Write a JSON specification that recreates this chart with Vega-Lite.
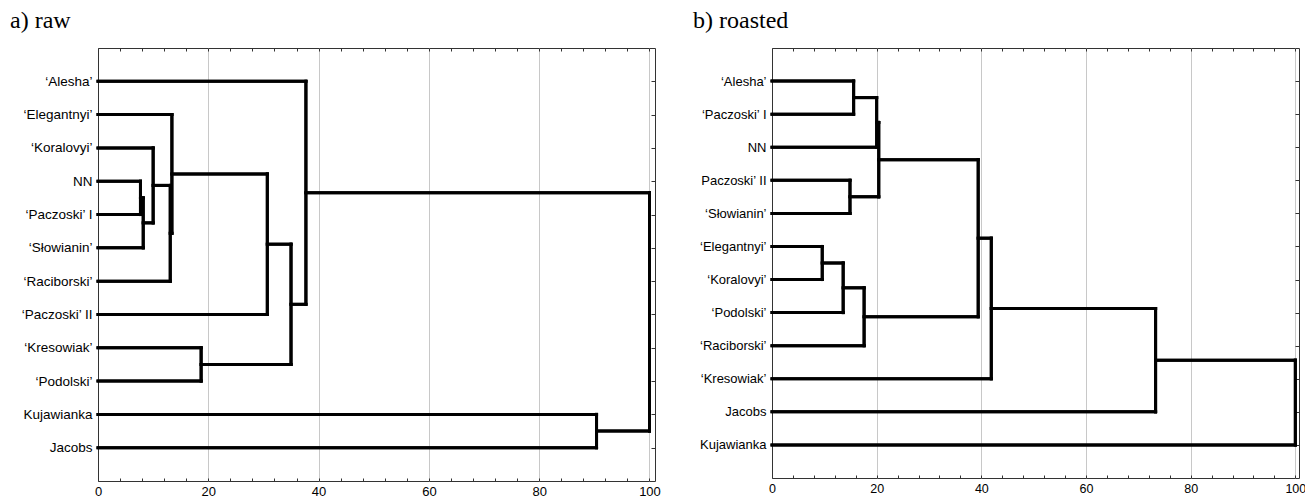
{
  "$schema": "https://vega.github.io/schema/vega-lite/v6.json",
  "padding": {"left": 9, "top": 8, "right": 0, "bottom": 0},
  "background": "white",
  "config": {
    "view": {"stroke": "#333", "strokeWidth": 1},
    "concat": {"spacing": 31}
  },
  "datasets": {
    "raw": [
      {"x1": 0, "x2": 7.7, "y1": 4, "y2": 4},
      {"x1": 0, "x2": 7.7, "y1": 5, "y2": 5},
      {"x1": 7.7, "x2": 7.7, "y1": 4, "y2": 5},
      {"x1": 7.7, "x2": 8.2, "y1": 4.5, "y2": 4.5},
      {"x1": 0, "x2": 8.2, "y1": 6, "y2": 6},
      {"x1": 8.2, "x2": 8.2, "y1": 4.5, "y2": 6},
      {"x1": 0, "x2": 10.0, "y1": 3, "y2": 3},
      {"x1": 8.2, "x2": 10.0, "y1": 5.25, "y2": 5.25},
      {"x1": 10.0, "x2": 10.0, "y1": 3, "y2": 5.25},
      {"x1": 10.0, "x2": 13.1, "y1": 4.125, "y2": 4.125},
      {"x1": 0, "x2": 13.1, "y1": 7, "y2": 7},
      {"x1": 13.1, "x2": 13.1, "y1": 4.125, "y2": 7},
      {"x1": 0, "x2": 13.4, "y1": 2, "y2": 2},
      {"x1": 13.1, "x2": 13.4, "y1": 5.5625, "y2": 5.5625},
      {"x1": 13.4, "x2": 13.4, "y1": 2, "y2": 5.5625},
      {"x1": 13.4, "x2": 30.7, "y1": 3.78125, "y2": 3.78125},
      {"x1": 0, "x2": 30.7, "y1": 8, "y2": 8},
      {"x1": 30.7, "x2": 30.7, "y1": 3.78125, "y2": 8},
      {"x1": 0, "x2": 18.7, "y1": 9, "y2": 9},
      {"x1": 0, "x2": 18.7, "y1": 10, "y2": 10},
      {"x1": 18.7, "x2": 18.7, "y1": 9, "y2": 10},
      {"x1": 30.7, "x2": 35.0, "y1": 5.890625, "y2": 5.890625},
      {"x1": 18.7, "x2": 35.0, "y1": 9.5, "y2": 9.5},
      {"x1": 35.0, "x2": 35.0, "y1": 5.890625, "y2": 9.5},
      {"x1": 0, "x2": 37.7, "y1": 1, "y2": 1},
      {"x1": 35.0, "x2": 37.7, "y1": 7.6953, "y2": 7.6953},
      {"x1": 37.7, "x2": 37.7, "y1": 1, "y2": 7.6953},
      {"x1": 0, "x2": 90.4, "y1": 11, "y2": 11},
      {"x1": 0, "x2": 90.4, "y1": 12, "y2": 12},
      {"x1": 90.4, "x2": 90.4, "y1": 11, "y2": 12},
      {"x1": 37.7, "x2": 100, "y1": 4.3477, "y2": 4.3477},
      {"x1": 90.4, "x2": 100, "y1": 11.5, "y2": 11.5},
      {"x1": 100, "x2": 100, "y1": 4.3477, "y2": 11.5}
    ],
    "roasted": [
      {"x1": 0, "x2": 15.6, "y1": 1, "y2": 1},
      {"x1": 0, "x2": 15.6, "y1": 2, "y2": 2},
      {"x1": 15.6, "x2": 15.6, "y1": 1, "y2": 2},
      {"x1": 0, "x2": 14.9, "y1": 4, "y2": 4},
      {"x1": 0, "x2": 14.9, "y1": 5, "y2": 5},
      {"x1": 14.9, "x2": 14.9, "y1": 4, "y2": 5},
      {"x1": 15.6, "x2": 20.0, "y1": 1.5, "y2": 1.5},
      {"x1": 0, "x2": 20.0, "y1": 3, "y2": 3},
      {"x1": 20.0, "x2": 20.0, "y1": 1.5, "y2": 3},
      {"x1": 20.0, "x2": 20.4, "y1": 2.25, "y2": 2.25},
      {"x1": 14.9, "x2": 20.4, "y1": 4.5, "y2": 4.5},
      {"x1": 20.4, "x2": 20.4, "y1": 2.25, "y2": 4.5},
      {"x1": 0, "x2": 9.6, "y1": 6, "y2": 6},
      {"x1": 0, "x2": 9.6, "y1": 7, "y2": 7},
      {"x1": 9.6, "x2": 9.6, "y1": 6, "y2": 7},
      {"x1": 9.6, "x2": 13.6, "y1": 6.5, "y2": 6.5},
      {"x1": 0, "x2": 13.6, "y1": 8, "y2": 8},
      {"x1": 13.6, "x2": 13.6, "y1": 6.5, "y2": 8},
      {"x1": 13.6, "x2": 17.6, "y1": 7.25, "y2": 7.25},
      {"x1": 0, "x2": 17.6, "y1": 9, "y2": 9},
      {"x1": 17.6, "x2": 17.6, "y1": 7.25, "y2": 9},
      {"x1": 20.4, "x2": 39.4, "y1": 3.375, "y2": 3.375},
      {"x1": 17.6, "x2": 39.4, "y1": 8.125, "y2": 8.125},
      {"x1": 39.4, "x2": 39.4, "y1": 3.375, "y2": 8.125},
      {"x1": 39.4, "x2": 41.9, "y1": 5.75, "y2": 5.75},
      {"x1": 0, "x2": 41.9, "y1": 10, "y2": 10},
      {"x1": 41.9, "x2": 41.9, "y1": 5.75, "y2": 10},
      {"x1": 41.9, "x2": 73.3, "y1": 7.875, "y2": 7.875},
      {"x1": 0, "x2": 73.3, "y1": 11, "y2": 11},
      {"x1": 73.3, "x2": 73.3, "y1": 7.875, "y2": 11},
      {"x1": 73.3, "x2": 100, "y1": 9.4375, "y2": 9.4375},
      {"x1": 0, "x2": 100, "y1": 12, "y2": 12},
      {"x1": 100, "x2": 100, "y1": 9.4375, "y2": 12}
    ]
  },
  "hconcat": [
    {
      "width": 557,
      "height": 433,
      "title": {"text": "a) raw", "anchor": "start", "frame": "group", "dx": -88, "font": "Liberation Serif", "fontSize": 24, "fontWeight": "normal", "color": "#000", "baseline": "alphabetic", "offset": -4},
      "data": {"name": "raw"},
      "layer": [
        {
          "mark": {"type": "rule", "strokeWidth": 3, "color": "#000", "strokeCap": "square"},
          "encoding": {
            "x": {"field": "x1", "type": "quantitative", "scale": {"domain": [0, 101], "nice": false, "zero": false},
              "axis": {"orient": "bottom", "title": null, "domain": false, "values": [0,4,8,12,16,20,24,28,32,36,40,44,48,52,56,60,64,68,72,76,80,84,88,92,96,100],
                "labelExpr": "datum.value % 20 === 0 ? datum.label : ''", "labelFont": "Liberation Sans", "labelFontSize": 13, "labelColor": "#000", "labelPadding": 7, "labelFlush": false,
                "tickSize": -3, "tickColor": "#333", "grid": true, "gridColor": "#c8c8c8",
                "gridOpacity": {"condition": {"test": "datum.value % 20 === 0 && datum.value > 0", "value": 1}, "value": 0}}},
            "x2": {"field": "x2"},
            "y": {"field": "y1", "type": "quantitative", "scale": {"domain": [0, 13], "reverse": true, "nice": false, "zero": false},
              "axis": {"orient": "left", "title": null, "domain": false, "grid": false, "ticks": false, "values": [1,2,3,4,5,6,7,8,9,10,11,12],
                "labelExpr": "['', '‘Alesha’', '‘Elegantnyi’', '‘Koralovyi’', 'NN', '‘Paczoski’ I', '‘Słowianin’', '‘Raciborski’', '‘Paczoski’ II', '‘Kresowiak’', '‘Podolski’', 'Kujawianka', 'Jacobs'][datum.value]",
                "labelFont": "Liberation Sans", "labelFontSize": 13.5, "labelColor": "#000", "labelPadding": 6}},
            "y2": {"field": "y2"}
          }
        },
        {
          "mark": {"type": "rule", "strokeWidth": 3, "color": "#000", "strokeCap": "square"},
          "encoding": {
            "x": {"field": "x1", "type": "quantitative",
              "axis": {"orient": "top", "title": null, "domain": false, "labels": false, "grid": false, "values": [0,4,8,12,16,20,24,28,32,36,40,44,48,52,56,60,64,68,72,76,80,84,88,92,96,100], "tickSize": -3, "tickColor": "#333"}},
            "x2": {"field": "x2"},
            "y": {"field": "y1", "type": "quantitative",
              "axis": {"orient": "right", "title": null, "domain": false, "labels": false, "grid": false, "values": [1,2,3,4,5,6,7,8,9,10,11,12], "tickSize": -4, "tickColor": "#333"}},
            "y2": {"field": "y2"}
          }
        }
      ],
      "resolve": {"axis": {"x": "independent", "y": "independent"}}
    },
    {
      "width": 527,
      "height": 430,
      "title": {"text": "b) roasted", "anchor": "start", "frame": "group", "dx": -79, "font": "Liberation Serif", "fontSize": 24, "fontWeight": "normal", "color": "#000", "baseline": "alphabetic", "offset": -4},
      "data": {"name": "roasted"},
      "layer": [
        {
          "mark": {"type": "rule", "strokeWidth": 3, "color": "#000", "strokeCap": "square"},
          "encoding": {
            "x": {"field": "x1", "type": "quantitative", "scale": {"domain": [0, 100.7], "nice": false, "zero": false},
              "axis": {"orient": "bottom", "title": null, "domain": false, "values": [0,4,8,12,16,20,24,28,32,36,40,44,48,52,56,60,64,68,72,76,80,84,88,92,96,100],
                "labelExpr": "datum.value % 20 === 0 ? datum.label : ''", "labelFont": "Liberation Sans", "labelFontSize": 12.5, "labelColor": "#000", "labelPadding": 7, "labelFlush": false,
                "tickSize": -3, "tickColor": "#333", "grid": true, "gridColor": "#c8c8c8",
                "gridOpacity": {"condition": {"test": "datum.value % 20 === 0 && datum.value > 0", "value": 1}, "value": 0}}},
            "x2": {"field": "x2"},
            "y": {"field": "y1", "type": "quantitative", "scale": {"domain": [0, 13], "reverse": true, "nice": false, "zero": false},
              "axis": {"orient": "left", "title": null, "domain": false, "grid": false, "ticks": false, "values": [1,2,3,4,5,6,7,8,9,10,11,12],
                "labelExpr": "['', '‘Alesha’', '‘Paczoski’ I', 'NN', 'Paczoski’ II', '‘Słowianin’', '‘Elegantnyi’', '‘Koralovyi’', '‘Podolski’', '‘Raciborski’', '‘Kresowiak’', 'Jacobs', 'Kujawianka'][datum.value]",
                "labelFont": "Liberation Sans", "labelFontSize": 13, "labelColor": "#000", "labelPadding": 6}},
            "y2": {"field": "y2"}
          }
        },
        {
          "mark": {"type": "rule", "strokeWidth": 3, "color": "#000", "strokeCap": "square"},
          "encoding": {
            "x": {"field": "x1", "type": "quantitative",
              "axis": {"orient": "top", "title": null, "domain": false, "labels": false, "grid": false, "values": [0,4,8,12,16,20,24,28,32,36,40,44,48,52,56,60,64,68,72,76,80,84,88,92,96,100], "tickSize": -3, "tickColor": "#333"}},
            "x2": {"field": "x2"},
            "y": {"field": "y1", "type": "quantitative",
              "axis": {"orient": "right", "title": null, "domain": false, "labels": false, "grid": false, "values": [1,2,3,4,5,6,7,8,9,10,11,12], "tickSize": -4, "tickColor": "#333"}},
            "y2": {"field": "y2"}
          }
        }
      ],
      "resolve": {"axis": {"x": "independent", "y": "independent"}}
    }
  ]
}
